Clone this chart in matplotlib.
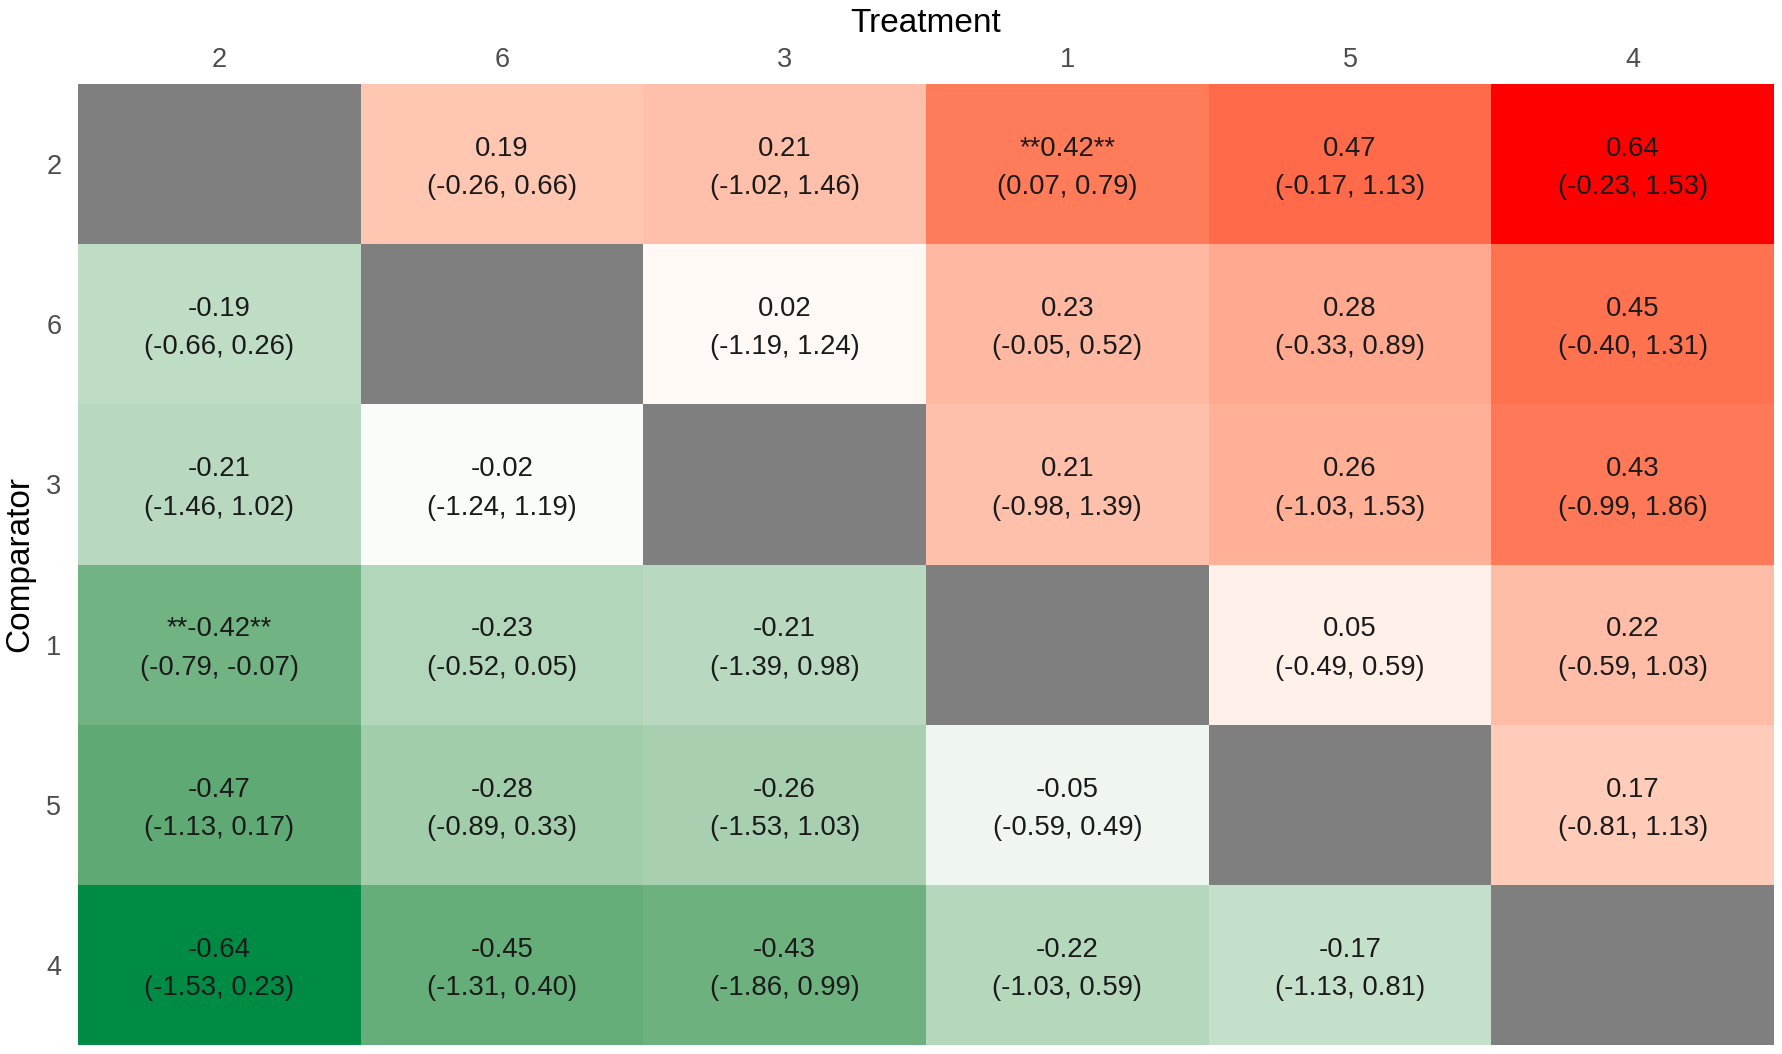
import numpy as np
import matplotlib
matplotlib.use("Agg")
import matplotlib.pyplot as plt
from matplotlib.colors import ListedColormap, to_rgb

plt.rcParams['font.family'] = ['Liberation Sans', 'DejaVu Sans']

treatments = ["2", "6", "3", "1", "5", "4"]
comparators = ["2", "6", "3", "1", "5", "4"]

est = [
    [np.nan, 0.19, 0.21, 0.42, 0.47, 0.64],
    [-0.19, np.nan, 0.02, 0.23, 0.28, 0.45],
    [-0.21, -0.02, np.nan, 0.21, 0.26, 0.43],
    [-0.42, -0.23, -0.21, np.nan, 0.05, 0.22],
    [-0.47, -0.28, -0.26, -0.05, np.nan, 0.17],
    [-0.64, -0.45, -0.43, -0.22, -0.17, np.nan],
]
lower = [
    [np.nan, -0.26, -1.02, 0.07, -0.17, -0.23],
    [-0.66, np.nan, -1.19, -0.05, -0.33, -0.40],
    [-1.46, -1.24, np.nan, -0.98, -1.03, -0.99],
    [-0.79, -0.52, -1.39, np.nan, -0.49, -0.59],
    [-1.13, -0.89, -1.53, -0.59, np.nan, -0.81],
    [-1.53, -1.31, -1.86, -1.03, -1.13, np.nan],
]
upper = [
    [np.nan, 0.66, 1.46, 0.79, 1.13, 1.53],
    [0.26, np.nan, 1.24, 0.52, 0.89, 1.31],
    [1.02, 1.19, np.nan, 1.39, 1.53, 1.86],
    [-0.07, 0.05, 0.98, np.nan, 0.59, 1.03],
    [0.17, 0.33, 1.03, 0.49, np.nan, 1.13],
    [0.23, 0.40, 0.99, 0.59, 0.81, np.nan],
]

# ---- Lab-space diverging gradient (like ggplot2 scale_fill_gradient2) ----
WHITE_REF = np.array([0.95047, 1.0, 1.08883])
M = np.array([[0.4124564, 0.3575761, 0.1804375],
              [0.2126729, 0.7151522, 0.0721750],
              [0.0193339, 0.1191920, 0.9503041]])
Minv = np.linalg.inv(M)


def rgb2lab(rgb):
    c = np.asarray(rgb, float)
    lin = np.where(c <= 0.04045, c / 12.92, ((c + 0.055) / 1.055) ** 2.4)
    xyz = M @ lin / WHITE_REF
    eps, kap = 216 / 24389, 24389 / 27
    f = np.where(xyz > eps, np.cbrt(xyz), (kap * xyz + 16) / 116)
    return np.array([116 * f[1] - 16, 500 * (f[0] - f[1]), 200 * (f[1] - f[2])])


def lab2rgb(lab):
    L, a, b = lab
    fy = (L + 16) / 116
    fx = fy + a / 500
    fz = fy - b / 200
    eps, kap = 216 / 24389, 24389 / 27
    def finv(f):
        return f ** 3 if f ** 3 > eps else (116 * f - 16) / kap
    xr, zr = finv(fx), finv(fz)
    yr = fy ** 3 if L > kap * eps else L / kap
    xyz = np.array([xr, yr, zr]) * WHITE_REF
    lin = Minv @ xyz
    lin = np.clip(lin, 0, 1)
    c = np.where(lin <= 0.0031308, 12.92 * lin, 1.055 * lin ** (1 / 2.4) - 0.055)
    return np.clip(c, 0, 1)


low_c, mid_c, high_c = "#008B45", "#FFFFFF", "#FF0000"
lab_low, lab_mid, lab_high = (rgb2lab(to_rgb(c)) for c in (low_c, mid_c, high_c))
cols = []
for t in np.linspace(0, 1, 512):
    if t < 0.5:
        s = t * 2
        lab = lab_low + (lab_mid - lab_low) * s
    else:
        s = (t - 0.5) * 2
        lab = lab_mid + (lab_high - lab_mid) * s
    cols.append(lab2rgb(lab))
cmap = ListedColormap(cols)
cmap.set_bad("#7F7F7F")

E = np.array(est, float)
L = np.array(lower, float)
U = np.array(upper, float)
vmax = np.nanmax(np.abs(E))

fig = plt.figure(figsize=(17.83, 10.54), dpi=100)
ax = fig.add_axes([78 / 1783, 1 - 1045 / 1054, (1774 - 78) / 1783, (1045 - 84) / 1054])

ax.pcolormesh(np.arange(len(treatments) + 1), np.arange(len(comparators) + 1),
              np.ma.masked_invalid(E), cmap=cmap, vmin=-vmax, vmax=vmax)
ax.set_xlim(0, len(treatments))
ax.set_ylim(len(comparators), 0)

for i in range(len(comparators)):
    for j in range(len(treatments)):
        if np.isnan(E[i, j]):
            continue
        sig = L[i, j] > 0 or U[i, j] < 0
        v = f"{E[i, j]:.2f}"
        if sig:
            v = f"**{v}**"
        txt = f"{v}\n({L[i, j]:.2f}, {U[i, j]:.2f})"
        ax.text(j + 0.5, i + 0.525, txt, ha="center", va="center",
                fontsize=19.8, color="#1A1A1A", linespacing=1.62)

ax.xaxis.tick_top()
ax.xaxis.set_label_position("top")
ax.set_xticks(np.arange(len(treatments)) + 0.5)
ax.set_xticklabels(treatments)
ax.set_yticks(np.arange(len(comparators)) + 0.5)
ax.set_yticklabels(comparators)
ax.tick_params(axis="x", length=0, pad=8, labelsize=19.5, labelcolor="#4D4D4D")
ax.tick_params(axis="y", length=0, pad=12, labelsize=19.5, labelcolor="#4D4D4D")
ax.set_xlabel("Treatment", fontsize=24, labelpad=11, color="black")
ax.set_ylabel("Comparator", fontsize=24, labelpad=8, color="black")
for s in ax.spines.values():
    s.set_visible(False)

fig.savefig("out.png", dpi=100)
